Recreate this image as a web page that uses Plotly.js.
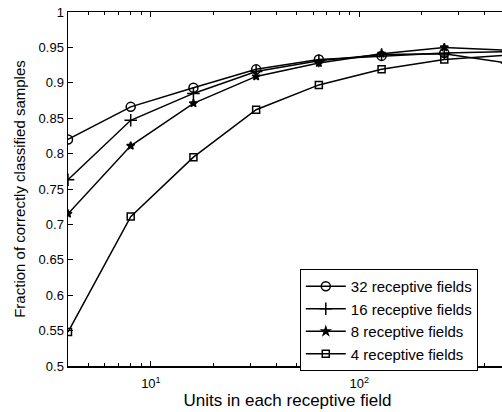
<!DOCTYPE html>
<html>
<head>
<meta charset="utf-8">
<script src="https://cdn.plot.ly/plotly-3.0.1.min.js"></script>
<style>
  html, body { margin: 0; padding: 0; overflow: hidden; background: #fff; }
  #chart { width: 520px; height: 412px; }
</style>
</head>
<body>
<div id="chart"></div>
<script>
// Units per receptive field (log-spaced)
const units = [4, 8, 16, 32, 64, 128, 256, 512];

// Classification accuracy for each number of receptive fields
const acc32 = [0.820, 0.866, 0.893, 0.919, 0.933, 0.938, 0.942, 0.944];
const acc16 = [0.763, 0.847, 0.885, 0.916, 0.931, 0.940, 0.941, 0.928];
const acc8  = [0.715, 0.811, 0.871, 0.909, 0.928, 0.941, 0.950, 0.946];
const acc4  = [0.548, 0.711, 0.795, 0.862, 0.897, 0.919, 0.933, 0.939];

const seriesNames = ['32 receptive fields', '16 receptive fields', '8 receptive fields', '4 receptive fields'];
const xTickVals = [10, 100];
const xTickText = ['10<sup>1</sup>', '10<sup>2</sup>'];
const xMinorVals = [5, 6, 7, 8, 9, 20, 30, 40, 50, 60, 70, 80, 90, 200, 300, 400, 500];
const yTickVals = [0.5, 0.55, 0.6, 0.65, 0.7, 0.75, 0.8, 0.85, 0.9, 0.95, 1];
const yTickText = ['0.5', '0.55', '0.6', '0.65', '0.7', '0.75', '0.8', '0.85', '0.9', '0.95', '1'];

const FONT = 'Liberation Sans, Arial, sans-serif';

function series(y, name, symbol, size) {
  return {
    x: units, y: y, name: name, type: 'scatter', mode: 'lines+markers',
    line: { color: '#000', width: 1.5 },
    marker: { symbol: symbol, size: size, color: '#000',
              line: { color: '#000', width: 1.5 } }
  };
}

const data = [
  series(acc32, seriesNames[0], 'circle-open', 9),
  series(acc16, seriesNames[1], 'cross-thin-open', 9),
  series(acc8,  seriesNames[2], 'star', 6),
  series(acc4,  seriesNames[3], 'square-open', 7)
];

const layout = {
  width: 520, height: 412,
  margin: { l: 68, r: 13, t: 12, b: 46 },
  paper_bgcolor: '#fff', plot_bgcolor: '#fff',
  font: { family: FONT, size: 13, color: '#000' },
  showlegend: true,
  legend: {
    x: 0.528, y: 0.274, xanchor: 'left', yanchor: 'top',
    bordercolor: '#000', borderwidth: 1, bgcolor: '#fff',
    font: { family: FONT, size: 15, color: '#000' },
    itemwidth: 40, tracegroupgap: 0
  },
  xaxis: {
    type: 'log',
    range: [Math.log10(4), Math.log10(512)],
    tickvals: xTickVals, ticktext: xTickText,
    ticks: 'inside', ticklen: 5, tickwidth: 1, tickcolor: '#000',
    ticklabelstandoff: 5,
    minor: { tickmode: 'array', tickvals: xMinorVals, ticks: 'inside', ticklen: 3,
             tickwidth: 1, tickcolor: '#000', showgrid: false },
    showline: true, linecolor: '#000', linewidth: 1.5, mirror: 'ticks',
    showgrid: false, zeroline: false,
    tickfont: { family: FONT, size: 13 },
    title: { text: 'Units in each receptive field', font: { family: FONT, size: 17 }, standoff: 4 }
  },
  yaxis: {
    range: [0.5, 1],
    tickvals: yTickVals, ticktext: yTickText,
    ticks: 'inside', ticklen: 5, tickwidth: 1, tickcolor: '#000',
    showline: true, linecolor: '#000', linewidth: 1.5, mirror: 'ticks',
    showgrid: false, zeroline: false,
    tickfont: { family: FONT, size: 13 },
    title: { text: 'Fraction of correctly classified samples', font: { family: FONT, size: 15 }, standoff: 9 }
  }
};

Plotly.newPlot('chart', data, layout, { displayModeBar: false, staticPlot: true });
</script>
</body>
</html>
